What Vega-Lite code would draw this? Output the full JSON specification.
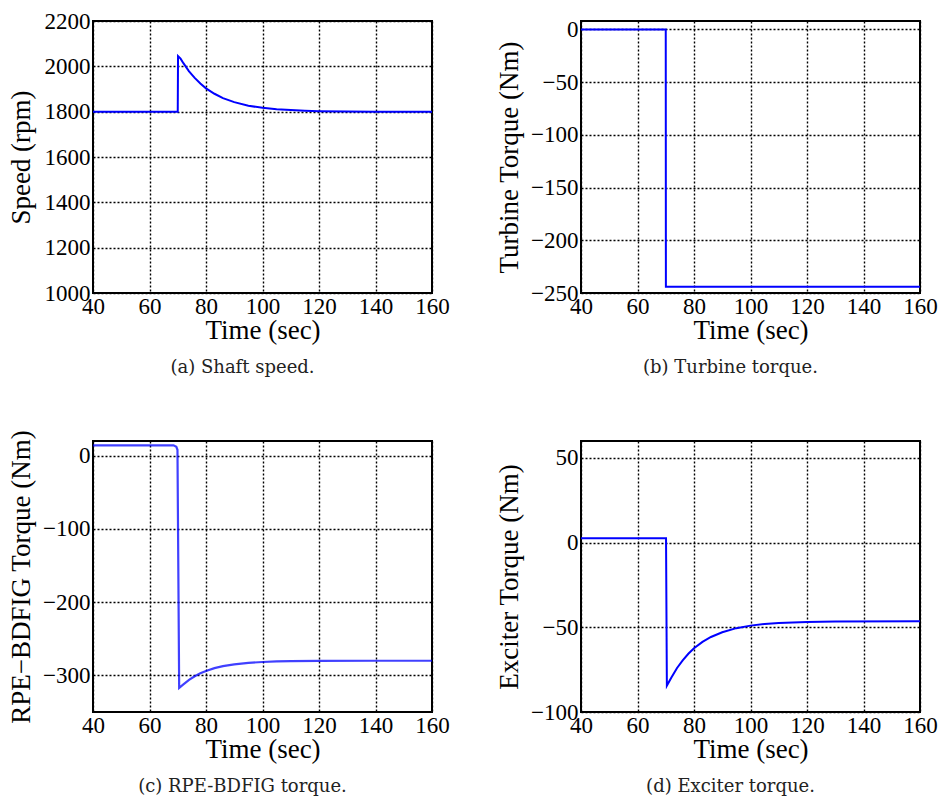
{
  "$schema": "https://vega.github.io/schema/vega-lite/v6.json",
  "background": "white",
  "padding": {"left": 5, "top": 9, "right": 5, "bottom": 0},
  "config": {
    "font": "Liberation Serif",
    "view": {"stroke": "black", "strokeWidth": 2},
    "axis": {
      "grid": true, "gridColor": "black", "gridDash": [2, 2], "gridWidth": 1.4, "gridOpacity": 1,
      "domain": false, "ticks": false, "format": "d",
      "labelFont": "Liberation Serif", "labelFontSize": 23, "labelColor": "black", "labelFlush": false, "labelOverlap": false,
      "titleFont": "Liberation Serif", "titleFontSize": 27, "titleFontWeight": "normal", "titleColor": "black"
    },
    "axisX": {"labelPadding": 2, "minExtent": 22, "maxExtent": 22, "titlePadding": 2},
    "axisY": {"labelPadding": 3, "minExtent": 50, "maxExtent": 50, "titlePadding": 8},
    "title": {"orient": "bottom", "font": "DejaVu Serif", "fontSize": 18, "fontWeight": "normal", "color": "#222", "offset": 16, "dx": -20},
    "line": {"color": "#0000ff", "strokeWidth": 2, "clip": true}
  },
  "datasets": {
    "a": [
      {"t": 40, "v": 1800}, {"t": 70, "v": 1800}, {"t": 70.1, "v": 2045}, {"t": 71, "v": 2034}, {"t": 72, "v": 2014},
      {"t": 74, "v": 1978}, {"t": 76, "v": 1949}, {"t": 78, "v": 1924}, {"t": 80, "v": 1903}, {"t": 83, "v": 1879},
      {"t": 86, "v": 1860}, {"t": 90, "v": 1842}, {"t": 95, "v": 1826}, {"t": 100, "v": 1817}, {"t": 105, "v": 1811},
      {"t": 110, "v": 1807}, {"t": 115, "v": 1804}, {"t": 120, "v": 1802}, {"t": 130, "v": 1800.5}, {"t": 140, "v": 1800},
      {"t": 160, "v": 1800}
    ],
    "b": [
      {"t": 40, "v": 0}, {"t": 70, "v": 0}, {"t": 70.05, "v": -244}, {"t": 160, "v": -244}
    ],
    "c": [
      {"t": 40, "v": 14}, {"t": 68.5, "v": 14}, {"t": 69.5, "v": 12}, {"t": 69.9, "v": 8}, {"t": 70.5, "v": -317},
      {"t": 72, "v": -312.3}, {"t": 74, "v": -306.2}, {"t": 76, "v": -301.2}, {"t": 78, "v": -297.2}, {"t": 80, "v": -293.9},
      {"t": 83, "v": -290.1}, {"t": 86, "v": -287.4}, {"t": 90, "v": -284.9}, {"t": 95, "v": -282.9}, {"t": 100, "v": -281.7},
      {"t": 105, "v": -281.0}, {"t": 110, "v": -280.5}, {"t": 120, "v": -280.2}, {"t": 140, "v": -280}, {"t": 160, "v": -280}
    ],
    "d": [
      {"t": 40, "v": 2.6}, {"t": 70.1, "v": 2.6}, {"t": 70.4, "v": -84.4}, {"t": 72, "v": -79.6}, {"t": 74, "v": -74.0},
      {"t": 76, "v": -69.5}, {"t": 78, "v": -65.6}, {"t": 80, "v": -62.4}, {"t": 83, "v": -58.6}, {"t": 86, "v": -55.7},
      {"t": 90, "v": -52.9}, {"t": 95, "v": -50.5}, {"t": 100, "v": -49.0}, {"t": 105, "v": -48.0}, {"t": 110, "v": -47.4},
      {"t": 120, "v": -46.8}, {"t": 130, "v": -46.6}, {"t": 160, "v": -46.4}
    ]
  },
  "columns": 2,
  "spacing": {"row": 148, "column": 149},
  "bounds": "flush",
  "concat": [
    {
      "width": 339, "height": 272,
      "title": {"text": "(a) Shaft speed."},
      "data": {"name": "a"},
      "mark": {"type": "line"},
      "encoding": {
        "x": {"field": "t", "type": "quantitative", "title": "Time (sec)", "scale": {"domain": [40, 160], "nice": false},
              "axis": {"values": [40, 60, 80, 100, 120, 140, 160]}},
        "y": {"field": "v", "type": "quantitative", "title": "Speed (rpm)", "scale": {"domain": [1000, 2200], "nice": false, "zero": false},
              "axis": {"values": [1000, 1200, 1400, 1600, 1800, 2000, 2200]}}
      }
    },
    {
      "width": 339, "height": 272,
      "title": {"text": "(b) Turbine torque."},
      "data": {"name": "b"},
      "mark": {"type": "line"},
      "encoding": {
        "x": {"field": "t", "type": "quantitative", "title": "Time (sec)", "scale": {"domain": [40, 160], "nice": false},
              "axis": {"values": [40, 60, 80, 100, 120, 140, 160]}},
        "y": {"field": "v", "type": "quantitative", "title": "Turbine Torque (Nm)", "scale": {"domain": [-250, 8], "nice": false, "zero": false},
              "axis": {"values": [-250, -200, -150, -100, -50, 0]}}
      }
    },
    {
      "width": 339, "height": 271,
      "title": {"text": "(c) RPE-BDFIG torque."},
      "data": {"name": "c"},
      "mark": {"type": "line", "strokeWidth": 2.2, "opacity": 0.75},
      "encoding": {
        "x": {"field": "t", "type": "quantitative", "title": "Time (sec)", "scale": {"domain": [40, 160], "nice": false},
              "axis": {"values": [40, 60, 80, 100, 120, 140, 160]}},
        "y": {"field": "v", "type": "quantitative", "title": "RPE−BDFIG Torque (Nm)", "scale": {"domain": [-350, 20], "nice": false, "zero": false},
              "axis": {"values": [-300, -200, -100, 0]}}
      }
    },
    {
      "width": 339, "height": 271,
      "title": {"text": "(d) Exciter torque."},
      "data": {"name": "d"},
      "mark": {"type": "line"},
      "encoding": {
        "x": {"field": "t", "type": "quantitative", "title": "Time (sec)", "scale": {"domain": [40, 160], "nice": false},
              "axis": {"values": [40, 60, 80, 100, 120, 140, 160]}},
        "y": {"field": "v", "type": "quantitative", "title": "Exciter Torque (Nm)", "scale": {"domain": [-100, 60], "nice": false, "zero": false},
              "axis": {"values": [-100, -50, 0, 50]}}
      }
    }
  ]
}
